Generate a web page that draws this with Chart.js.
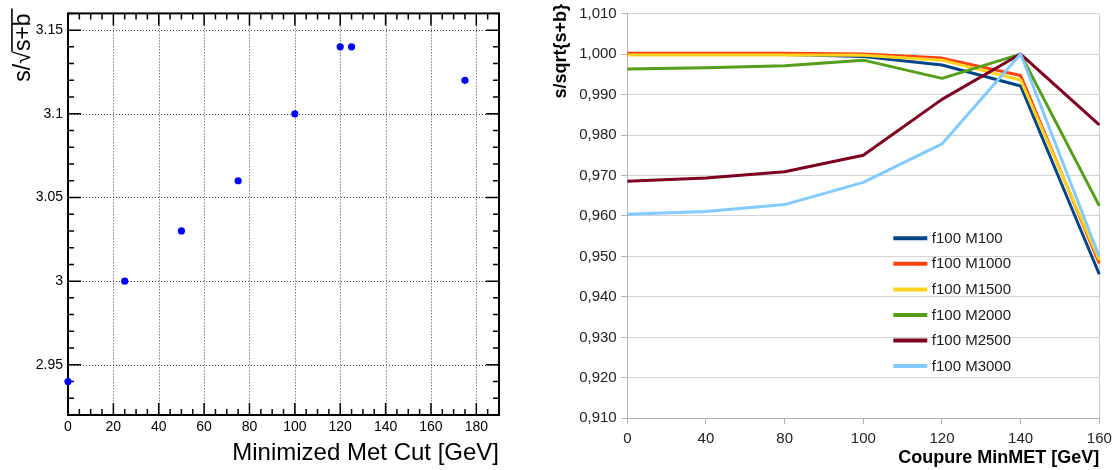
<!DOCTYPE html>
<html><head><meta charset="utf-8">
<script src="https://cdn.jsdelivr.net/npm/chart.js@4/dist/chart.umd.min.js"></script>
<style>
html,body{margin:0;padding:0;background:#fff;width:1118px;height:470px;overflow:hidden}
#c1{position:absolute;left:0;top:0}
#c2{position:absolute;left:540px;top:0}
</style></head><body>
<canvas id="c1" width="540" height="470"></canvas>
<canvas id="c2" width="578" height="470"></canvas>
<script>
// ---------- Left panel data ----------
const cutValues = [0, 25, 50, 75, 100, 120, 125, 175];
const significance = [2.94, 3.00, 3.03, 3.06, 3.10, 3.14, 3.14, 3.12];
const leftXTicks = [0, 20, 40, 60, 80, 100, 120, 140, 160, 180];
const leftXTickLabels = ['0', '20', '40', '60', '80', '100', '120', '140', '160', '180'];
const leftYTicks = [2.95, 3.00, 3.05, 3.10, 3.15];
const leftYTickLabels = ['2.95', '3', '3.05', '3.1', '3.15'];
const leftXTitle = 'Minimized Met Cut [GeV]';
const leftYTitle = 's/√s+b';

// ---------- Right panel data ----------
const cutCategories = ['0', '40', '80', '100', '120', '140', '160'];
const seriesNames = ['f100 M100', 'f100 M1000', 'f100 M1500', 'f100 M2000', 'f100 M2500', 'f100 M3000'];
const m100  = [0.9999, 0.9999, 0.9999, 0.9994, 0.9973, 0.9921, 0.9456];
const m1000 = [1.0002, 1.0002, 1.0002, 1.0000, 0.9990, 0.9947, 0.9483];
const m1500 = [0.9998, 0.9998, 0.9998, 0.9997, 0.9985, 0.9936, 0.9491];
const m2000 = [0.9963, 0.9966, 0.9971, 0.9985, 0.9940, 1.0000, 0.9625];
const m2500 = [0.9686, 0.9694, 0.9709, 0.9750, 0.9888, 1.0000, 0.9825];
const m3000 = [0.9604, 0.9611, 0.9628, 0.9683, 0.9778, 1.0000, 0.9500];
const rightYTicks = [0.91, 0.92, 0.93, 0.94, 0.95, 0.96, 0.97, 0.98, 0.99, 1.00, 1.01];
const rightYTickLabels = ['0,910', '0,920', '0,930', '0,940', '0,950', '0,960', '0,970', '0,980', '0,990', '1,000', '1,010'];
const rightXTitle = 'Coupure MinMET [GeV]';
const rightYTitle = 's/sqrt{s+b}';

const seriesValues = [m100, m1000, m1500, m2000, m2500, m3000];
const palette = ['#004586', '#ff420e', '#ffd320', '#579d1c', '#7e0021', '#83caff'];

Chart.defaults.font.family = "'Liberation Sans', Arial, sans-serif";

// ROOT-style frame, dotted grid and inner ticks
const rootFrame = {
  id: 'rootFrame',
  beforeDatasetsDraw(chart) {
    const {ctx, chartArea: a, scales: {x, y}} = chart;
    ctx.save();
    ctx.strokeStyle = '#444';
    ctx.lineWidth = 1;
    ctx.setLineDash([1, 2]);
    leftXTicks.forEach(v => {
      if (v <= x.min) return;
      const px = Math.round(x.getPixelForValue(v)) + 0.5;
      ctx.beginPath(); ctx.moveTo(px, a.top); ctx.lineTo(px, a.bottom); ctx.stroke();
    });
    leftYTicks.forEach(v => {
      const py = Math.round(y.getPixelForValue(v)) + 0.5;
      ctx.beginPath(); ctx.moveTo(a.left, py); ctx.lineTo(a.right, py); ctx.stroke();
    });
    ctx.setLineDash([]);
    ctx.strokeStyle = '#000';
    ctx.lineWidth = 1.5;
    const xMinorStep = 5, yMinorStep = 0.01;
    for (let v = x.min; v <= x.max + 1e-9; v += xMinorStep) {
      const major = leftXTicks.some(t => Math.abs(t - v) < 1e-6);
      const len = major ? 12 : 6;
      const px = x.getPixelForValue(v);
      ctx.beginPath();
      ctx.moveTo(px, a.bottom); ctx.lineTo(px, a.bottom - len);
      ctx.moveTo(px, a.top); ctx.lineTo(px, a.top + len);
      ctx.stroke();
    }
    for (let v = 2.92; v <= y.max + 1e-9; v += yMinorStep) {
      const major = leftYTicks.some(t => Math.abs(t - v) < 1e-6);
      const len = major ? 13 : 6;
      const py = y.getPixelForValue(v);
      ctx.beginPath();
      ctx.moveTo(a.left, py); ctx.lineTo(a.left + len, py);
      ctx.moveTo(a.right, py); ctx.lineTo(a.right - len, py);
      ctx.stroke();
    }
    ctx.lineWidth = 2;
    ctx.strokeRect(a.left, a.top, a.right - a.left, a.bottom - a.top);
    ctx.restore();
  },
  afterDraw(chart) {
    const {ctx, scales: {y}} = chart;
    ctx.save();
    ctx.font = "23px 'Liberation Sans', Arial, sans-serif";
    ctx.textBaseline = 'middle';
    const idx = leftYTitle.indexOf('√');
    const wUnder = ctx.measureText(leftYTitle.slice(idx + 1)).width;
    const asc = ctx.measureText('√').actualBoundingBoxAscent;
    const titleX = y.left + 10 + 23 * 1.2 / 2;
    const ox = titleX - asc + 0.8;
    ctx.strokeStyle = '#000';
    ctx.lineWidth = 1.6;
    ctx.beginPath();
    ctx.moveTo(ox, y.top + wUnder + 0.5);
    ctx.lineTo(ox, y.top - 5);
    ctx.stroke();
    ctx.restore();
  }
};

new Chart(document.getElementById('c1'), {
  type: 'scatter',
  data: {
    datasets: [{
      data: cutValues.map((v, i) => ({x: v, y: significance[i]})),
      backgroundColor: '#0000ff',
      borderWidth: 0,
      pointRadius: 3.6,
      pointHoverRadius: 3.6,
      clip: false
    }]
  },
  options: {
    responsive: false,
    animation: false,
    events: [],
    layout: {padding: {left: 0, right: 41, top: 6, bottom: 0}},
    plugins: {legend: {display: false}, tooltip: {enabled: false}},
    scales: {
      x: {
        type: 'linear', min: 0, max: 190,
        afterBuildTicks: s => { s.ticks = leftXTicks.map(v => ({value: v})); },
        afterFit: s => { s.height = 55; },
        grid: {display: false, drawTicks: false},
        border: {display: false},
        ticks: {color: '#000', font: {size: 14}, padding: 4, maxRotation: 0, autoSkip: false,
                callback: (v, i) => leftXTickLabels[i]},
        title: {display: true, text: leftXTitle, align: 'end', color: '#000',
                font: {size: 24}, padding: {top: 0, bottom: 2}}
      },
      y: {
        type: 'linear', min: 2.92, max: 3.16,
        afterBuildTicks: s => { s.ticks = leftYTicks.map(v => ({value: v})); },
        afterFit: s => { s.width = 68; },
        grid: {display: false, drawTicks: false},
        border: {display: false},
        ticks: {color: '#000', font: {size: 14}, padding: 5, autoSkip: false,
                callback: (v, i) => leftYTickLabels[i]},
        title: {display: true, text: leftYTitle, align: 'end', color: '#000',
                font: {size: 23}, padding: {top: 10, bottom: 0}}
      }
    }
  },
  plugins: [rootFrame]
});

// ---------- Right panel ----------
const rightExtras = {
  id: 'rightExtras',
  beforeDatasetsDraw(chart) {
    const {ctx, chartArea: a} = chart;
    ctx.save();
    ctx.strokeStyle = '#c8c8c8';
    ctx.lineWidth = 1;
    ctx.beginPath();
    ctx.moveTo(Math.round(a.right) + 0.5, a.top);
    ctx.lineTo(Math.round(a.right) + 0.5, a.bottom);
    ctx.stroke();
    ctx.restore();
  },
  afterDraw(chart) {
    const {ctx, chartArea: a} = chart;
    ctx.save();
    // y-axis title (placed at the top, as in the original)
    ctx.font = "bold 18px 'Liberation Sans', Arial, sans-serif";
    ctx.fillStyle = '#000';
    ctx.textBaseline = 'middle';
    ctx.textAlign = 'right';
    ctx.translate(21.5, 4);
    ctx.rotate(-Math.PI / 2);
    ctx.fillText(rightYTitle, 0, 0);
    ctx.setTransform(1, 0, 0, 1, 0, 0);
    // legend
    const lx0 = a.left + 266, lx1 = a.left + 300, tx = a.left + 304.5;
    const y0 = 238.3, dy = 25.55;
    ctx.font = "15px 'Liberation Sans', Arial, sans-serif";
    ctx.textBaseline = 'middle';
    ctx.textAlign = 'left';
    chart.data.datasets.forEach((ds, i) => {
      const yy = y0 + dy * i;
      ctx.strokeStyle = ds.borderColor;
      ctx.lineWidth = 4;
      ctx.beginPath(); ctx.moveTo(lx0, yy); ctx.lineTo(lx1, yy); ctx.stroke();
      ctx.fillStyle = '#1a1a1a';
      ctx.fillText(ds.label, tx, yy + 0.5);
    });
    ctx.restore();
  }
};

new Chart(document.getElementById('c2'), {
  type: 'line',
  data: {
    labels: cutCategories,
    datasets: seriesNames.map((name, i) => ({
      label: name,
      data: seriesValues[i],
      borderColor: palette[i],
      backgroundColor: palette[i],
      borderWidth: 3,
      pointRadius: 0,
      pointHoverRadius: 0,
      tension: 0,
      fill: false,
      borderJoinStyle: 'round',
      borderCapStyle: 'butt',
      order: seriesNames.length - i
    }))
  },
  options: {
    responsive: false,
    animation: false,
    events: [],
    layout: {padding: {left: 0, right: 18.7, top: 10, bottom: 0}},
    plugins: {legend: {display: false}, tooltip: {enabled: false}},
    scales: {
      x: {
        type: 'category', offset: false,
        afterFit: s => { s.height = 51.7; },
        grid: {drawOnChartArea: false, drawTicks: true, tickLength: 6, color: '#b3b3b3'},
        border: {color: '#b3b3b3'},
        ticks: {color: '#222', font: {size: 15}, padding: 6, maxRotation: 0, autoSkip: false},
        title: {display: true, text: rightXTitle, align: 'end', color: '#000',
                font: {size: 18, weight: 'bold'}, padding: {top: 0, bottom: 1}}
      },
      y: {
        type: 'linear', min: 0.91, max: 1.01,
        afterBuildTicks: s => { s.ticks = rightYTicks.map(v => ({value: v})); },
        afterFit: s => { s.width = 87.3; },
        grid: {color: '#d4d4d4', tickLength: 6, tickColor: '#b3b3b3'},
        border: {color: '#b3b3b3'},
        ticks: {color: '#222', font: {size: 15}, padding: 4.6, autoSkip: false,
                callback: (v, i) => rightYTickLabels[i]},
        title: {display: false, text: rightYTitle}
      }
    }
  },
  plugins: [rightExtras]
});
</script>
</body></html>
